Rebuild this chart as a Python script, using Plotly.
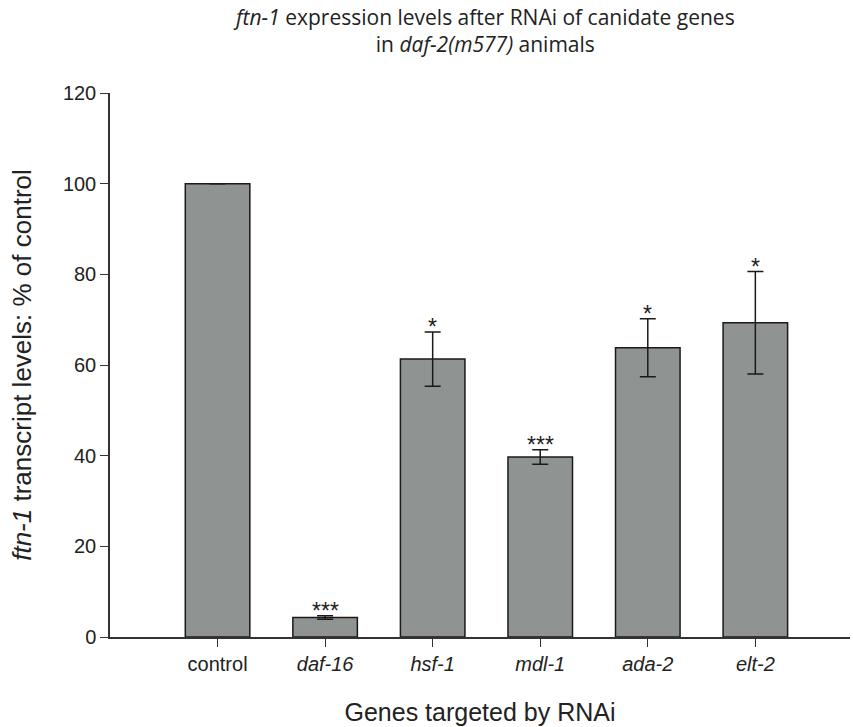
import plotly.graph_objects as go

genes = ["control", "daf-16", "hsf-1", "mdl-1", "ada-2", "elt-2"]
gene_labels = ["control", "<i>daf-16</i>", "<i>hsf-1</i>", "<i>mdl-1</i>", "<i>ada-2</i>", "<i>elt-2</i>"]
values = [100, 4.3, 61.3, 39.7, 63.8, 69.3]
errors = [0, 0.4, 6.0, 1.6, 6.4, 11.3]
significance = ["", "***", "*", "***", "*", "*"]
y_ticks = [0, 20, 40, 60, 80, 100, 120]
title_text = ("<i>ftn-1</i> expression levels after RNAi of canidate genes<br>"
              "in <i>daf-2(m577)</i> animals")

x_pos = list(range(len(genes)))
W, H = 853, 727

fig = go.Figure()
fig.add_trace(go.Bar(
    x=x_pos, y=values, width=0.6,
    marker=dict(color="#8f9492", line=dict(color="#1a1a1a", width=1.5)),
    error_y=dict(type="data", array=[e if e > 0 else None for e in errors], visible=True,
                 color="#1a1a1a", thickness=1.5, width=8),
    showlegend=False,
))

for xi, v, e, s in zip(x_pos, values, errors, significance):
    if s:
        fig.add_annotation(x=xi, y=v + e, text=s, showarrow=False, yanchor="bottom",
                           yshift=-10, font=dict(family="Liberation Sans, Arial", size=23, color="#222"))

fig.add_annotation(xref="paper", yref="paper", x=(484 - 110) / (W - 113),
                   y=1 + (93 - 31) / (H - 183), text=title_text, showarrow=False,
                   xanchor="center", yanchor="middle",
                   font=dict(family="Open Sans", size=21, color="#222"))

fig.update_layout(
    width=W, height=H,
    paper_bgcolor="white", plot_bgcolor="white",
    margin=dict(l=110, r=3, t=93, b=90),
    font=dict(family="Liberation Sans, Arial", color="#222"),
)

fig.update_xaxes(
    range=[-1, 5.88], tickmode="array", tickvals=x_pos, ticktext=gene_labels,
    showline=True, linecolor="#333", linewidth=1.5, ticks="outside", ticklen=8,
    tickcolor="#333", tickwidth=1.2, tickfont=dict(size=20),
    title=dict(text="Genes targeted by RNAi", font=dict(size=25), standoff=30),
    showgrid=False, zeroline=False,
)
fig.update_yaxes(
    range=[0, 120], tickmode="array", tickvals=y_ticks,
    showline=True, linecolor="#333", linewidth=1.5, ticks="outside", ticklen=8,
    tickcolor="#333", tickwidth=1.2, tickfont=dict(size=20),
    title=dict(text="<i>ftn-1</i> transcript levels: % of control", font=dict(size=26), standoff=24),
    showgrid=False, zeroline=False,
)

fig.write_html("out.html", config={"displayModeBar": False},
               post_script="document.body.style.margin='0';document.body.style.overflow='hidden';")
